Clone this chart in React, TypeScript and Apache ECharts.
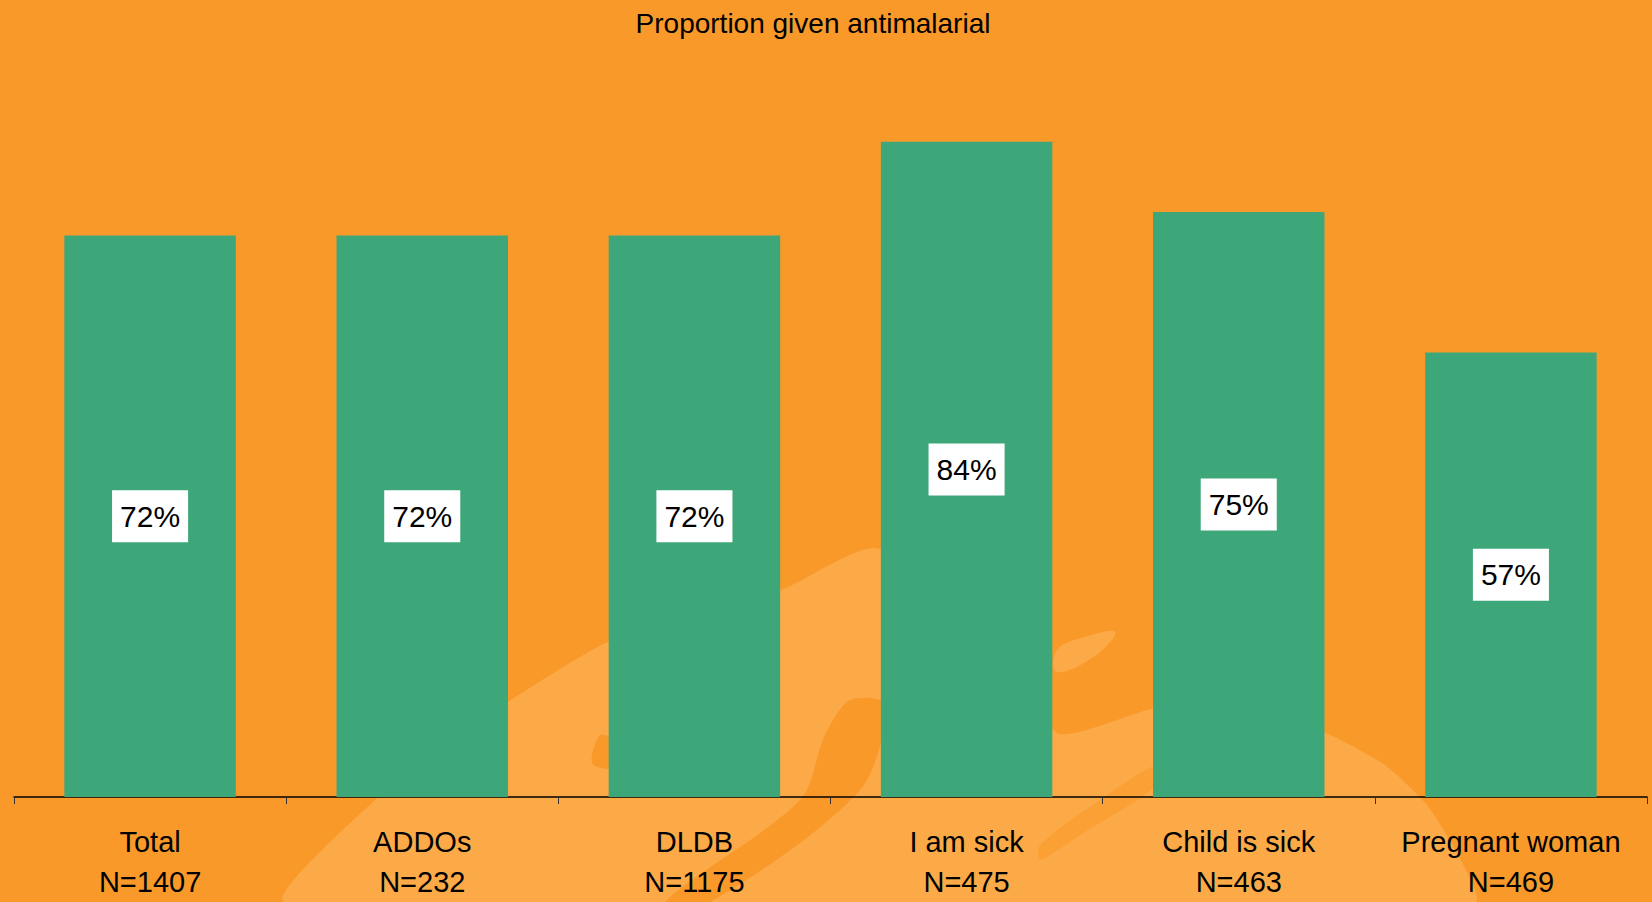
import React, { useEffect, useRef } from "react";
import * as echarts from "echarts";

const categories = ["Total", "ADDOs", "DLDB", "I am sick", "Child is sick", "Pregnant woman"];
const sampleSizes = [1407, 232, 1175, 475, 463, 469];
const proportions = [72, 72, 72, 84, 75, 57];
const titleText = "Proportion given antimalarial";

const FONT = "'Liberation Sans', Arial, sans-serif";
const BG = "#F9992A";
const LIGHT = "#FCAA48";

export default function App() {
  const ref = useRef<HTMLDivElement>(null);
  useEffect(() => {
    if (!ref.current) return;
    const chart = echarts.init(ref.current, undefined, { renderer: "svg" });
    chart.setOption({
      animation: false,
      backgroundColor: BG,
      title: {
        text: titleText,
        left: 813,
        textAlign: "center",
        top: 3,
        padding: 0,
        textStyle: { fontFamily: FONT, fontSize: 28, fontWeight: "normal", color: "#000", lineHeight: 40 },
      },
      graphic: {
        elements: [
          {
            type: "polygon",
            z: -10,
            silent: true,
            shape: {
              smooth: 0.2,
              points: [
                [286, 902], [375, 800], [450, 745], [511, 700], [612, 640], [781, 590], [875, 548],
                [1000, 620], [1057, 733], [1157, 708], [1260, 712], [1326, 733], [1385, 765],
                [1427, 805], [1458, 855], [1475, 902],
              ],
            },
            style: { fill: LIGHT },
          },
          {
            type: "polygon",
            z: -9,
            silent: true,
            shape: {
              smooth: 0.4,
              points: [[1057, 650], [1085, 637], [1115, 632], [1095, 656], [1057, 672]],
            },
            style: { fill: LIGHT },
          },
          {
            type: "polygon",
            z: -9,
            silent: true,
            shape: {
              smooth: 0.3,
              points: [[850, 700], [885, 705], [860, 790], [710, 902], [665, 902], [800, 800], [825, 735]],
            },
            style: { fill: BG },
          },
          {
            type: "polygon",
            z: -9,
            silent: true,
            shape: {
              smooth: 0.3,
              points: [[1157, 765], [1157, 785], [1080, 835], [1040, 860], [1040, 845], [1100, 800]],
            },
            style: { fill: BG, opacity: 0.6 },
          },
          {
            type: "polygon",
            z: -9,
            silent: true,
            shape: {
              smooth: 0.3,
              points: [[600, 735], [615, 742], [612, 768], [592, 763]],
            },
            style: { fill: BG },
          },
        ],
      },
      grid: { left: 14, right: 5, top: 17, bottom: 101, containLabel: false },
      xAxis: {
        type: "category",
        data: categories.map((c, i) => `${c}\nN=${sampleSizes[i]}`),
        boundaryGap: true,
        axisLine: { show: true, lineStyle: { color: "#000", width: 1.5 } },
        axisTick: { show: true, length: 7, alignWithLabel: false, lineStyle: { color: "#333" } },
        axisLabel: {
          fontFamily: FONT,
          fontSize: 29,
          color: "#000",
          lineHeight: 40,
          margin: 25,
          interval: 0,
        },
      },
      yAxis: {
        type: "value",
        min: 0,
        max: 100,
        show: false,
        splitLine: { show: false },
      },
      series: [
        {
          type: "bar",
          data: proportions,
          barWidth: "63%",
          itemStyle: { color: "#3EA77A" },
          label: {
            show: true,
            position: "inside",
            formatter: "{c}%",
            fontFamily: FONT,
            fontSize: 30,
            color: "#000",
            backgroundColor: "#fff",
            padding: [11, 8, 11, 8],
          },
        },
      ],
    });
    return () => chart.dispose();
  }, []);
  return (
    <div
      ref={ref}
      style={{ position: "fixed", left: 0, top: 0, width: 1652, height: 902 }}
    />
  );
}
